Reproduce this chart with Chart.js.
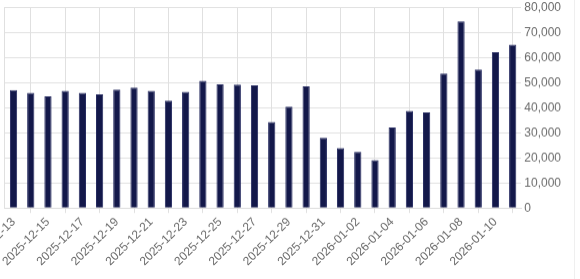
<!DOCTYPE html>
<html>
<head>
<meta charset="utf-8">
<script src="https://cdn.jsdelivr.net/npm/chart.js@4/dist/chart.umd.min.js"></script>
<style>
	html, body { margin: 0; padding: 0; background: #fff; overflow: hidden; }
	#frame { position: relative; width: 580px; height: 279px; overflow: hidden; }
	#holder { position: absolute; left: 0; top: 0; }
	#edge { position: absolute; left: 574px; top: 0; width: 1px; height: 279px; background: #efefef; }
</style>
</head>
<body>
<div id="frame">
	<div id="holder"><canvas id="barChart" width="700" height="320"></canvas></div>
	<div id="edge"></div>
</div>
<script>
const dias = [
	'2025-12-13', '2025-12-14', '2025-12-15', '2025-12-16', '2025-12-17', '2025-12-18',
	'2025-12-19', '2025-12-20', '2025-12-21', '2025-12-22', '2025-12-23', '2025-12-24',
	'2025-12-25', '2025-12-26', '2025-12-27', '2025-12-28', '2025-12-29', '2025-12-30',
	'2025-12-31', '2026-01-01', '2026-01-02', '2026-01-03', '2026-01-04', '2026-01-05',
	'2026-01-06', '2026-01-07', '2026-01-08', '2026-01-09', '2026-01-10', '2026-01-11'
];
const valores = [
	47000, 45900, 44500, 46700, 45900, 45300,
	47200, 48000, 46700, 42800, 46300, 50700,
	49300, 49200, 48900, 34300, 40400, 48500,
	28000, 23900, 22400, 19100, 32100, 38700,
	38100, 53600, 74400, 55200, 62100, 65100
];
const ticksY = [0, 10000, 20000, 30000, 40000, 50000, 60000, 70000, 80000];

const corGrelha = '#e0e0e0';
const corTexto = '#6b6b6b';
const fonte = { family: '"Liberation Sans", Arial, sans-serif', size: 12 };

// linhas verticais só nas barras ímpares, etiquetas só nas pares
function corVertical(ctx) {
	return ctx.index % 2 === 1 ? corGrelha : 'rgba(0,0,0,0)';
}

const grafico = new Chart(document.getElementById('barChart').getContext('2d'), {
	type: 'bar',
	data: {
		labels: dias,
		datasets: [{
			data: valores,
			backgroundColor: '#13184a',
			borderColor: '#262b60',
			borderWidth: 1,
			barPercentage: 0.42,
			categoryPercentage: 1
		}]
	},
	options: {
		responsive: false,
		animation: false,
		plugins: { legend: { display: false }, tooltip: { enabled: false } },
		layout: { padding: 0 },
		scales: {
			x: {
				grid: { offset: false, color: corVertical, tickColor: corVertical, tickLength: 5 },
				border: { color: '#dcdcdc' },
				ticks: {
					autoSkip: false,
					minRotation: 45,
					maxRotation: 45,
					padding: 2,
					color: corTexto,
					font: fonte,
					callback: function (v, i) { return i % 2 === 0 ? dias[i] : ''; }
				}
			},
			y: {
				position: 'right',
				min: ticksY[0],
				max: ticksY[ticksY.length - 1],
				afterBuildTicks: function (eixo) { eixo.ticks = ticksY.map(v => ({ value: v })); },
				grid: { color: corGrelha, drawTicks: false },
				border: { display: false },
				ticks: {
					padding: 3,
					color: corTexto,
					font: fonte,
					callback: function (v) { return v.toLocaleString('en-US'); }
				}
			},
			margem: {
				type: 'linear',
				position: 'left',
				grid: { display: false },
				border: { display: true, color: corGrelha },
				ticks: { display: false }
			}
		}
	}
});

// ajustar o tamanho para que a área do gráfico fique 4..528 x 7..207
let area = grafico.chartArea;
const novaLargura = grafico.width - (area.right - area.left) + 524;
const novaAltura = grafico.height - (area.bottom - area.top) + 200;
grafico.resize(novaLargura, novaAltura);
area = grafico.chartArea;
const caixa = document.getElementById('holder');
caixa.style.left = Math.round(4.5 - area.left) + 'px';
caixa.style.top = Math.round(7 - area.top) + 'px';
</script>
</body>
</html>
